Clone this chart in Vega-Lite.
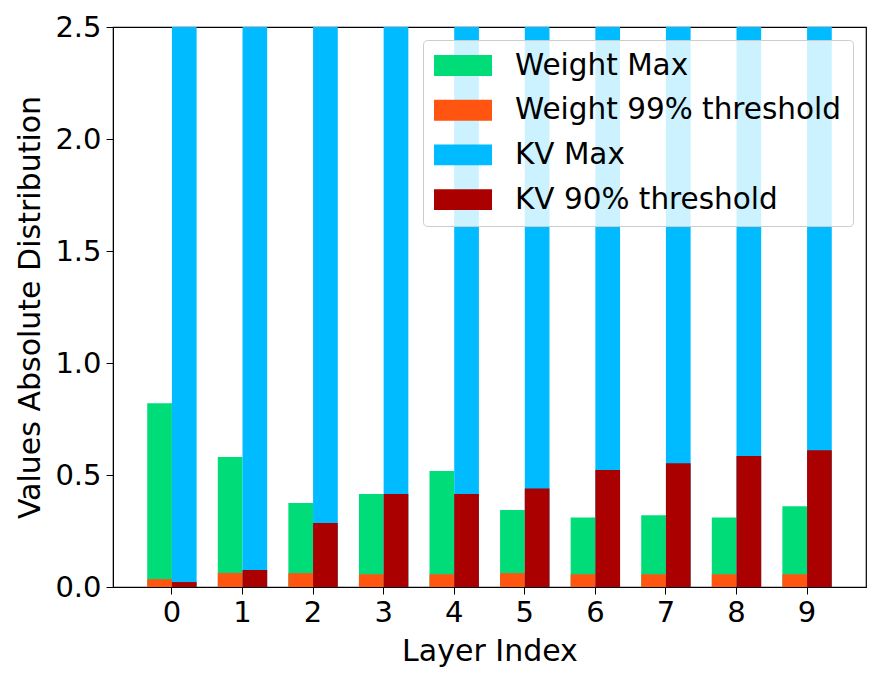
{
  "$schema": "https://vega.github.io/schema/vega-lite/v6.json",
  "autosize": "none",
  "width": 753,
  "height": 560,
  "padding": {"left": 113, "top": 27, "right": 15, "bottom": 95},
  "background": "white",
  "config": {
    "font": "DejaVu Sans",
    "view": {"stroke": "black", "strokeWidth": 1.2},
    "axis": {
      "domainColor": "black",
      "tickColor": "black",
      "labelColor": "black",
      "titleColor": "black",
      "labelFontSize": 29,
      "titleFontSize": 30,
      "titleFontWeight": "normal",
      "tickSize": 7,
      "grid": false
    }
  },
  "data": {
    "values": [
      {"layer": 0, "group": "Weight", "series": "Weight Max", "value": 0.82},
      {"layer": 1, "group": "Weight", "series": "Weight Max", "value": 0.58},
      {"layer": 2, "group": "Weight", "series": "Weight Max", "value": 0.375},
      {"layer": 3, "group": "Weight", "series": "Weight Max", "value": 0.415},
      {"layer": 4, "group": "Weight", "series": "Weight Max", "value": 0.518},
      {"layer": 5, "group": "Weight", "series": "Weight Max", "value": 0.344},
      {"layer": 6, "group": "Weight", "series": "Weight Max", "value": 0.31},
      {"layer": 7, "group": "Weight", "series": "Weight Max", "value": 0.32},
      {"layer": 8, "group": "Weight", "series": "Weight Max", "value": 0.31},
      {"layer": 9, "group": "Weight", "series": "Weight Max", "value": 0.36},
      {"layer": 0, "group": "KV", "series": "KV Max", "value": 4.0},
      {"layer": 1, "group": "KV", "series": "KV Max", "value": 4.0},
      {"layer": 2, "group": "KV", "series": "KV Max", "value": 4.0},
      {"layer": 3, "group": "KV", "series": "KV Max", "value": 4.0},
      {"layer": 4, "group": "KV", "series": "KV Max", "value": 4.0},
      {"layer": 5, "group": "KV", "series": "KV Max", "value": 4.0},
      {"layer": 6, "group": "KV", "series": "KV Max", "value": 4.0},
      {"layer": 7, "group": "KV", "series": "KV Max", "value": 4.0},
      {"layer": 8, "group": "KV", "series": "KV Max", "value": 4.0},
      {"layer": 9, "group": "KV", "series": "KV Max", "value": 4.0},
      {"layer": 0, "group": "Weight", "series": "Weight 99% threshold", "value": 0.035},
      {"layer": 1, "group": "Weight", "series": "Weight 99% threshold", "value": 0.062},
      {"layer": 2, "group": "Weight", "series": "Weight 99% threshold", "value": 0.062},
      {"layer": 3, "group": "Weight", "series": "Weight 99% threshold", "value": 0.057},
      {"layer": 4, "group": "Weight", "series": "Weight 99% threshold", "value": 0.057},
      {"layer": 5, "group": "Weight", "series": "Weight 99% threshold", "value": 0.062},
      {"layer": 6, "group": "Weight", "series": "Weight 99% threshold", "value": 0.057},
      {"layer": 7, "group": "Weight", "series": "Weight 99% threshold", "value": 0.057},
      {"layer": 8, "group": "Weight", "series": "Weight 99% threshold", "value": 0.057},
      {"layer": 9, "group": "Weight", "series": "Weight 99% threshold", "value": 0.057},
      {"layer": 0, "group": "KV", "series": "KV 90% threshold", "value": 0.022},
      {"layer": 1, "group": "KV", "series": "KV 90% threshold", "value": 0.076},
      {"layer": 2, "group": "KV", "series": "KV 90% threshold", "value": 0.286},
      {"layer": 3, "group": "KV", "series": "KV 90% threshold", "value": 0.415},
      {"layer": 4, "group": "KV", "series": "KV 90% threshold", "value": 0.415},
      {"layer": 5, "group": "KV", "series": "KV 90% threshold", "value": 0.44},
      {"layer": 6, "group": "KV", "series": "KV 90% threshold", "value": 0.522},
      {"layer": 7, "group": "KV", "series": "KV 90% threshold", "value": 0.553},
      {"layer": 8, "group": "KV", "series": "KV 90% threshold", "value": 0.585},
      {"layer": 9, "group": "KV", "series": "KV 90% threshold", "value": 0.61}
    ]
  },
  "mark": {"type": "bar", "clip": true},
  "encoding": {
    "x": {
      "field": "layer",
      "type": "ordinal",
      "title": "Layer Index",
      "scale": {"paddingInner": 0.3, "paddingOuter": 0.485},
      "axis": {"labelAngle": 0, "titlePadding": 9, "labelPadding": 4}
    },
    "xOffset": {
      "field": "group",
      "type": "nominal",
      "scale": {"domain": ["Weight", "KV"], "paddingInner": 0, "paddingOuter": 0}
    },
    "y": {
      "field": "value",
      "type": "quantitative",
      "stack": null,
      "title": "Values Absolute Distribution",
      "scale": {"domain": [0, 2.5], "nice": false},
      "axis": {"values": [0, 0.5, 1, 1.5, 2, 2.5], "format": ".1f", "titlePadding": 9, "labelPadding": 5}
    },
    "color": {
      "field": "series",
      "type": "nominal",
      "scale": {
        "domain": ["Weight Max", "Weight 99% threshold", "KV Max", "KV 90% threshold"],
        "range": ["#00DC78", "#FF5511", "#00BBFF", "#AA0000"]
      },
      "legend": {
        "title": null,
        "orient": "top-right",
        "offset": 13,
        "labelFontSize": 29.5,
        "labelColor": "black",
        "labelLimit": 400,
        "symbolType": "M-1,-0.36H1V0.36H-1Z",
        "symbolSize": 3364,
        "symbolOpacity": 1,
        "symbolStrokeWidth": 0,
        "labelOffset": 23,
        "clipHeight": 29,
        "rowPadding": 14.7,
        "padding": 11,
        "fillColor": "rgba(255,255,255,0.8)",
        "strokeColor": "#cccccc",
        "cornerRadius": 4
      }
    }
  }
}
